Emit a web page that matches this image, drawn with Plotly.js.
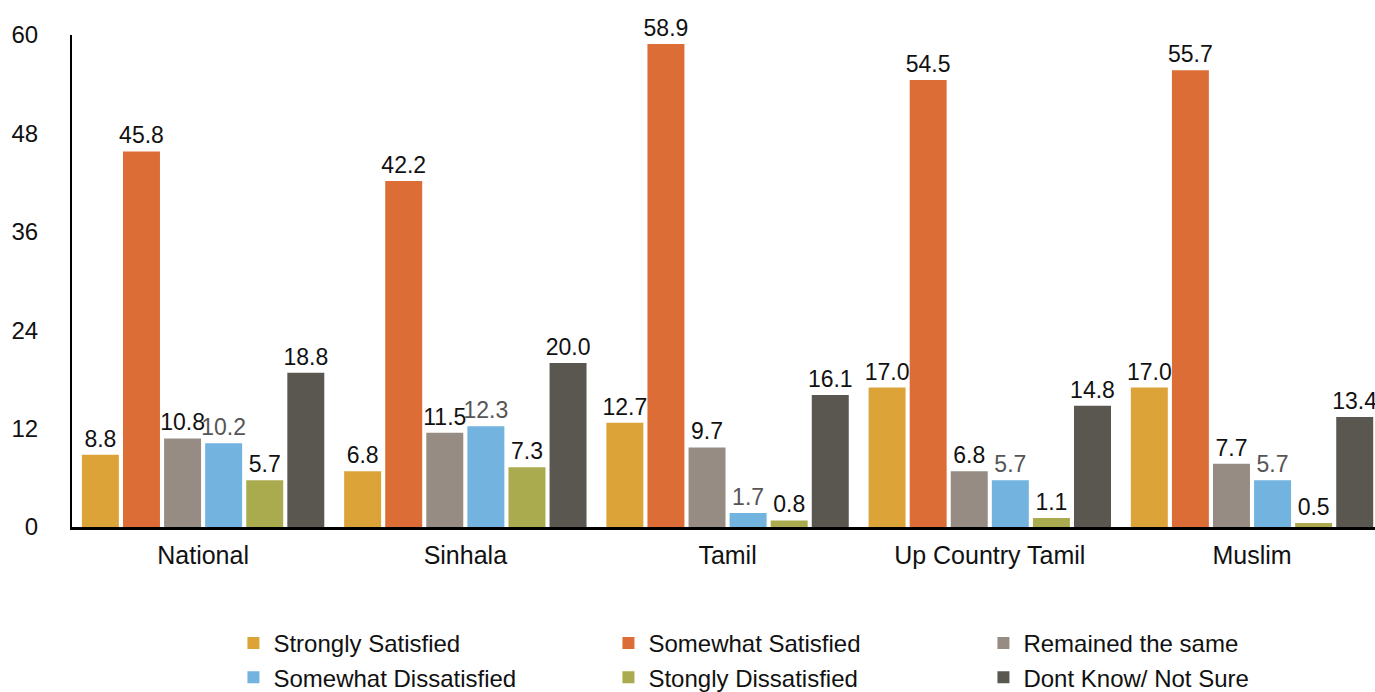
<!DOCTYPE html>
<html>
<head>
<meta charset="utf-8">
<script src="https://cdn.plot.ly/plotly-3.0.1.min.js"></script>
<style>
html, body { margin: 0; padding: 0; overflow: hidden; background: #fff; }
#chart { width: 1375px; height: 720px; }
</style>
</head>
<body>
<div id="chart"></div>
<script>
const categories = ["National", "Sinhala", "Tamil", "Up Country Tamil", "Muslim"];
const seriesNames = ["Strongly Satisfied", "Somewhat Satisfied", "Remained the same",
                     "Somewhat Dissatisfied", "Stongly Dissatisfied", "Dont Know/ Not Sure"];
const stronglySatisfied    = [8.8, 6.8, 12.7, 17.0, 17.0];
const somewhatSatisfied    = [45.8, 42.2, 58.9, 54.5, 55.7];
const remainedSame         = [10.8, 11.5, 9.7, 6.8, 7.7];
const somewhatDissatisfied = [10.2, 12.3, 1.7, 5.7, 5.7];
const stonglyDissatisfied  = [5.7, 7.3, 0.8, 1.1, 0.5];
const dontKnow             = [18.8, 20.0, 16.1, 14.8, 13.4];
const yTicks = [0, 12, 24, 36, 48, 60];

const seriesValues = [stronglySatisfied, somewhatSatisfied, remainedSame,
                      somewhatDissatisfied, stonglyDissatisfied, dontKnow];
const colors = ["#DCA339", "#DD6D37", "#968C83", "#72B3E0", "#AAAB4E", "#5A5750"];
const labelColors = ["#111", "#111", "#111", "#555", "#111", "#111"];
const FONT = "Liberation Sans, Arial, Helvetica, sans-serif";

const data = seriesValues.map((vals, i) => ({
  type: "bar",
  name: seriesNames[i],
  x: categories,
  y: vals,
  marker: { color: colors[i] },
  texttemplate: "%{y:.1f}",
  textposition: "outside",
  constraintext: "none",
  textfont: { family: FONT, size: 23, color: labelColors[i] },
  cliponaxis: false,
  hoverinfo: "none"
}));

const layout = {
  width: 1375,
  height: 720,
  margin: { l: 72, r: 0, t: 35, b: 193, pad: 0 },
  paper_bgcolor: "#fff",
  plot_bgcolor: "#fff",
  barmode: "group",
  bargap: 0.06,
  bargroupgap: 0.1,
  font: { family: FONT, size: 24, color: "#111" },
  xaxis: {
    type: "category",
    range: [-0.5, 4.469],
    showline: true,
    linecolor: "#000",
    linewidth: 3,
    showgrid: false,
    zeroline: false,
    ticks: "",
    ticklabelstandoff: 4,
    automargin: false,
    tickfont: { family: FONT, size: 25, color: "#111" }
  },
  yaxis: {
    range: [0, 60],
    tickvals: yTicks,
    ticktext: yTicks.map(String),
    showline: true,
    linecolor: "#000",
    linewidth: 2,
    showgrid: false,
    zeroline: false,
    ticks: "",
    ticklabelstandoff: 27,
    automargin: false,
    tickfont: { family: FONT, size: 24, color: "#111" }
  },
  showlegend: true,
  legend: {
    orientation: "h",
    x: 0.1239,
    xanchor: "left",
    y: -0.191,
    yanchor: "top",
    entrywidth: 330,
    entrywidthmode: "pixels",
    font: { family: FONT, size: 24, color: "#111" },
    traceorder: "normal",
    tracegroupgap: 0,
    itemclick: false
  }
};

Plotly.newPlot("chart", data, layout, { displayModeBar: false, staticPlot: true });
</script>
</body>
</html>
